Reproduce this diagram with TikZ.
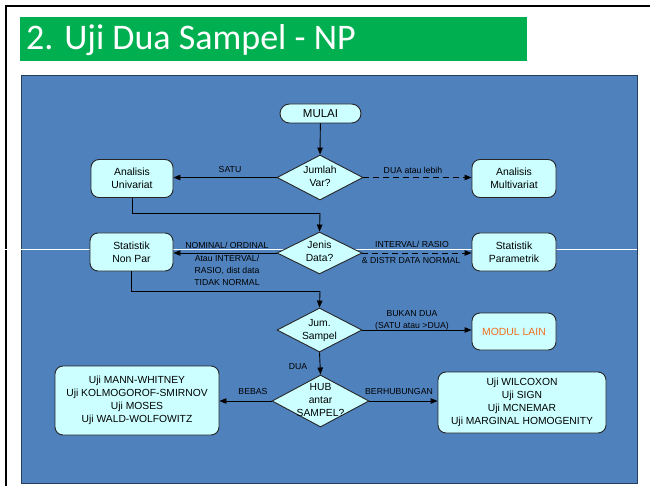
\documentclass[tikz,border=0pt]{standalone}
\usepackage{fontspec}
\setmainfont{Liberation Sans}
\newfontfamily\titlefont{Carlito}
\usetikzlibrary{shapes.geometric,arrows.meta}
\definecolor{panelblue}{RGB}{79,129,189}
\definecolor{paneledge}{RGB}{36,63,96}
\definecolor{boxfill}{RGB}{204,255,255}
\definecolor{titlegreen}{RGB}{0,176,80}
\definecolor{modulorange}{RGB}{240,110,30}
\begin{document}
\begin{tikzpicture}[x=1pt,y=-1pt,
  box/.style={draw=black!85, line width=0.9pt, fill=boxfill, rounded corners=8pt,
    align=center, inner sep=0pt, font=\fontsize{10.4}{13}\selectfont},
  term/.style={box, rounded corners=9.5pt},
  dia/.style={diamond, draw=black!85, line width=0.9pt, fill=boxfill, inner sep=0pt},
  dtext/.style={align=center, inner sep=0pt, font=\fontsize{10.3}{13}\selectfont},
  lbl/.style={align=center, inner sep=0pt, font=\fontsize{8.7}{12}\selectfont},
  conn/.style={line width=0.9pt, -{Triangle[length=7pt,width=5.5pt]}},
  dconn/.style={conn, dash pattern=on 6pt off 4pt},
]
\useasboundingbox (0,0) rectangle (650,486);

% slide frame and title bar
\draw[line width=2.5pt, black] (6,486) -- (6,6) -- (650,6);
\fill[titlegreen] (20,17) rectangle (527,61);
\node[anchor=base west, inner sep=0pt, text=white,
  font=\titlefont\fontsize{36}{40}\selectfont] (title) at (26,50) {2. Uji Dua Sampel - NP};

% flowchart panel
\draw[fill=panelblue, draw=paneledge, line width=0.9pt] (21,75) rectangle (637,483);
\draw[white, line width=0.8pt] (0,249) -- (637,249);

% nodes
\node[term, minimum width=81pt, minimum height=19pt, font=\fontsize{11.5}{13}\selectfont]
  (mulai) at (320.5,113.5) {MULAI};
\node[dia, minimum width=86pt, minimum height=45pt] (jv) at (320,177.5) {};
\node[dtext] (jvt) at (320,176.5) {Jumlah\\Var?};
\node[box, minimum width=82pt, minimum height=38pt] (uni) at (132,178.5) {Analisis\\Univariat};
\node[box, minimum width=84pt, minimum height=38pt] (multi) at (514,178.5) {Analisis\\Multivariat};

\node[dia, minimum width=85pt, minimum height=42pt] (jd) at (319.5,253) {};
\node[dtext] (jdt) at (319.5,251.5) {Jenis\\Data?};
\node[box, minimum width=83pt, minimum height=38pt] (np) at (131.5,252) {Statistik\\Non Par};
\node[box, minimum width=84pt, minimum height=38pt] (par) at (514,252) {Statistik\\Parametrik};

\node[dia, minimum width=85pt, minimum height=44pt] (js) at (319.5,330) {};
\node[dtext] (jst) at (319.5,331) {Jum.\\Sampel};
\node[box, minimum width=84pt, minimum height=37pt, text=modulorange] (modul) at (514,331.5) {MODUL LAIN};

\node[dia, minimum width=97pt, minimum height=52pt] (hub) at (320.5,401) {};
\node[dtext] (hubt) at (320.5,400) {HUB\\antar\\SAMPEL?};
\node[box, minimum width=164pt, minimum height=69pt, font=\fontsize{10.3}{13}\selectfont]
  (lbox) at (137,400.5) {Uji MANN-WHITNEY\\Uji KOLMOGOROF-SMIRNOV\\Uji MOSES\\Uji WALD-WOLFOWITZ};
\node[box, minimum width=168pt, minimum height=61pt, font=\fontsize{10.3}{13}\selectfont]
  (rbox) at (522,402.5) {Uji WILCOXON\\Uji SIGN\\Uji MCNEMAR\\Uji MARGINAL HOMOGENITY};

% connectors
\coordinate (m1) at (320,213);
\coordinate (m2) at (320,291);
\draw[conn] (mulai) -- (jv.north);
\draw[conn] (jv.west) -- (uni.east |- jv.west);
\draw[dconn] (jv.east) -- (multi.west |- jv.east);
\draw[line width=0.9pt] (uni.south) |- (m1);
\draw[conn] (m1) -- (jd.north);
\draw[conn] (jd.west) -- (np.east |- jd.west);
\draw[dconn] (jd.east) -- (par.west |- jd.east);
\draw[line width=0.9pt] (np.south) |- (m2);
\draw[conn] (m2) -- (js.north);
\draw[conn] (js.east) -- (modul.west |- js.east);
\draw[conn] (js.south) -- (hub.north);
\draw[conn] (hub.west) -- (lbox.east |- hub.west);
\draw[conn] (hub.east) -- (rbox.west |- hub.east);

% connector labels
\node[lbl] (l1) at (230,170) {SATU};
\node[lbl] (l2) at (413,170) {DUA atau lebih};
\node[lbl] (l3) at (227,245) {NOMINAL/ ORDINAL};
\node[lbl] (l4) at (227,270) {Atau INTERVAL/\\RASIO, dist data\\TIDAK NORMAL};
\node[lbl] (l5) at (412,244) {INTERVAL/ RASIO};
\node[lbl] (l6) at (411,261) {\& DISTR DATA NORMAL};
\node[lbl] (l7) at (412,320) {BUKAN DUA\\(SATU atau >DUA)};
\node[lbl] (l8) at (298,367) {DUA};
\node[lbl] (l9) at (253,392) {BEBAS};
\node[lbl] (l10) at (399,392) {BERHUBUNGAN};
\end{tikzpicture}
\end{document}
